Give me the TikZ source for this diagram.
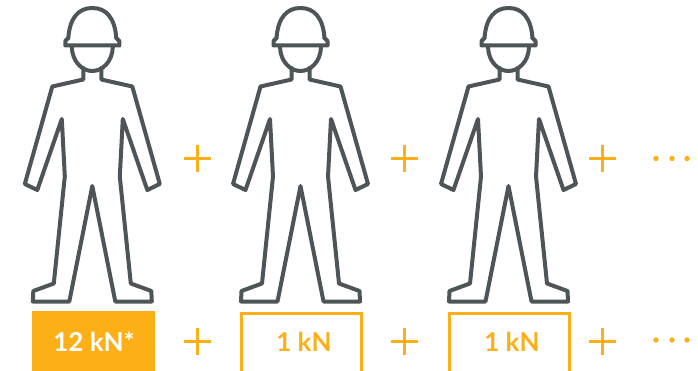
\documentclass[tikz,border=0pt]{standalone}
\usepackage{fontspec}
\setmainfont{Lato}
\definecolor{figgrey}{HTML}{4D5559}
\definecolor{amber}{HTML}{FDAF17}
\tikzset{
  x=1pt,y=-1pt,
  figline/.style={draw=figgrey,line width=4pt,line join=round,line cap=round},
  plusline/.style={draw=amber,line width=3pt},
  dotmark/.style={circle,fill=amber,inner sep=0pt,minimum size=5.4pt},
  loadtext/.style={font=\fontsize{26}{26}\selectfont\bfseries,inner sep=0pt},
  person/.pic={
    % body outline
    \path[figline] (-9,68) -- (-9,79.5) -- (-40,86.5) -- (-67.5,184) -- (-55,190) -- (-30.5,119)
      -- (-27.5,176.5) -- (-38.5,283.5) -- (-59,291) -- (-59.5,301.5) -- (-23,301.5) -- (0,186)
      -- (23,301.5) -- (59.5,301.5) -- (59,291) -- (38.5,283.5) -- (27.5,176.5) -- (30.5,119)
      -- (55,190) -- (67.5,184) -- (40,86.5) -- (9,79.5) -- (9,68);
    % face
    \path[figline] (-20.5,47) .. controls (-20,62) and (-10,71) .. (0,71)
      .. controls (10,71) and (20,62) .. (20.5,47);
    % helmet dome
    \path[figline] (-24,38) .. controls (-22.5,18) and (-14,8) .. (0,8)
      .. controls (14,8) and (22.5,18) .. (24,38);
    % brim
    \path[figline] (-24,38) -- (-27,41) -- (-27,45.5) -- (27,45.5) -- (27,41) -- (24,38);
  },
  plussign/.pic={
    \path[plusline] (-13.5,0) -- (13.5,0) (0,-13.5) -- (0,13.5);
  }
}
\begin{document}
\begin{tikzpicture}
\useasboundingbox (0,0) rectangle (698,371);
\clip (0,0) rectangle (698,371);
\pic at (92.3,0) {person};
\pic at (300.5,0) {person};
\pic at (508.5,0) {person};
\pic at (197,159) {plussign};
\pic at (404,159) {plussign};
\pic at (602.5,159) {plussign};
\pic at (197,341) {plussign};
\pic at (404,341) {plussign};
\pic at (602.5,341) {plussign};
\node[dotmark] (da1) at (656,158.5) {};
\node[dotmark] (da2) at (672,158.5) {};
\node[dotmark] (da3) at (687,158.5) {};
\node[dotmark] (db1) at (656,340) {};
\node[dotmark] (db2) at (672,340) {};
\node[dotmark] (db3) at (687,340) {};
\fill[amber] (31.7,311) rectangle (155,371);
\draw[amber,line width=3pt] (241,373) -- (241,313) -- (361,313) -- (361,373);
\draw[amber,line width=3pt] (449,373) -- (449,313) -- (569,313) -- (569,373);
\node[loadtext,text=white] (t1) at (94,342) {12 kN*};
\node[loadtext,text=amber] (t2) at (304,342) {1 kN};
\node[loadtext,text=amber] (t3) at (512,342) {1 kN};
\end{tikzpicture}
\end{document}
